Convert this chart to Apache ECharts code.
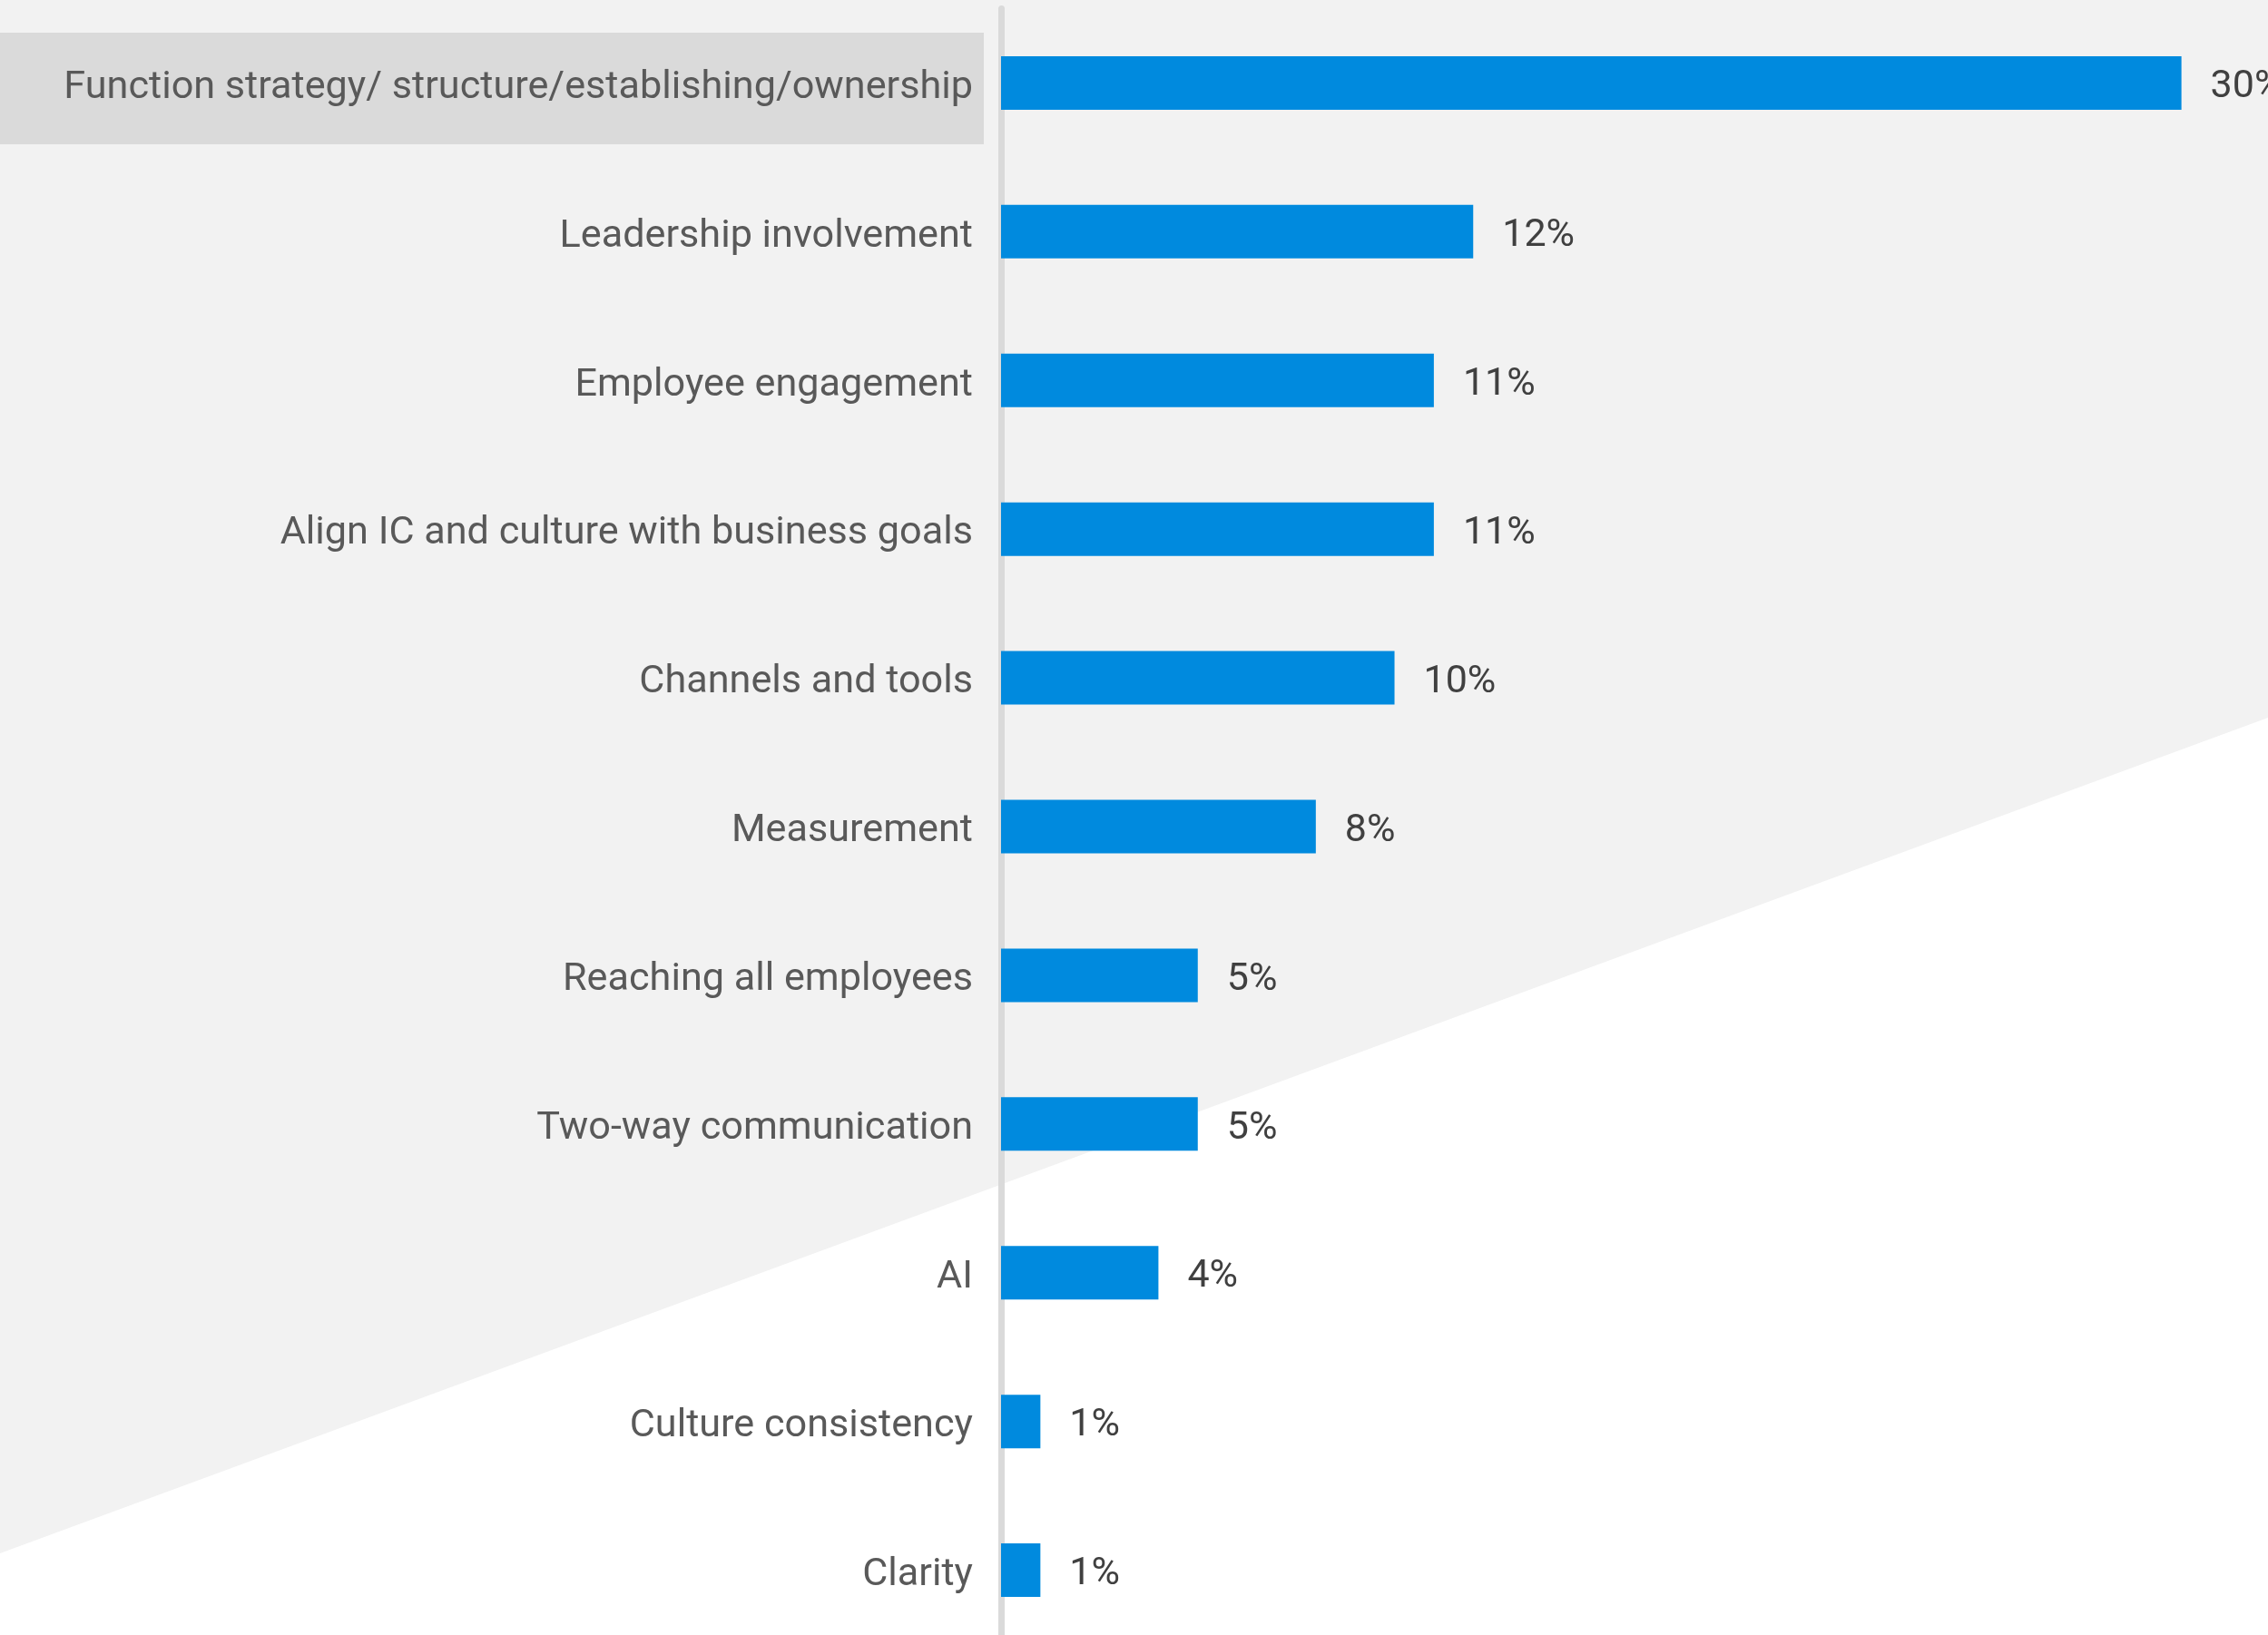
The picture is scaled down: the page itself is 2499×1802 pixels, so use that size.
<!DOCTYPE html>
<html>
<head>
<meta charset="utf-8">
<script src="https://cdn.jsdelivr.net/npm/echarts@6/dist/echarts.min.js"></script>
<style>
  html, body { margin: 0; padding: 0; background: #ffffff; overflow: hidden; }
  #chart { width: 2499px; height: 1816px; }
</style>
</head>
<body>
<div id="chart"></div>
<script>
// Survey answers: share of respondents per topic
const categories = [
  'Function strategy/ structure/establishing/ownership',
  'Leadership involvement',
  'Employee engagement',
  'Align IC and culture with business goals',
  'Channels and tools',
  'Measurement',
  'Reaching all employees',
  'Two-way communication',
  'AI',
  'Culture consistency',
  'Clarity'
];
const shares = [30, 12, 11, 11, 10, 8, 5, 5, 4, 1, 1];
const highlightedIndex = 0;

const W = 2499;
const chart = echarts.init(document.getElementById('chart'), null, { renderer: 'canvas' });

const option = {
  backgroundColor: '#ffffff',
  animation: false,
  grid: { left: 1103, right: 0, top: 9.5, height: 1803, containLabel: false },
  xAxis: {
    type: 'value', min: 0, max: 32.2, show: false
  },
  yAxis: {
    type: 'category',
    inverse: true,
    data: categories,
    offset: 3.5,
    axisLine: { show: true, lineStyle: { color: '#dadada', width: 7 } },
    axisTick: { show: false },
    splitLine: { show: false },
    axisLabel: {
      margin: 27.5,
      formatter: v => '{t|' + v + '}',
      rich: {
        t: {
          color: '#595959',
          fontFamily: 'Roboto',
          fontSize: 43.2,
          padding: [11, 0, 0, 0]
        }
      }
    }
  },
  series: [{
    type: 'bar',
    data: shares,
    barWidth: 59,
    itemStyle: { color: '#008ade' },
    label: {
      show: true,
      position: 'right',
      distance: 32,
      offset: [0, 5],
      color: '#404040',
      fontFamily: 'Roboto',
      fontSize: 43,
      formatter: p => p.value + '%'
    }
  }]
};
chart.setOption(option);

// Backdrop: light grey field cut by a diagonal, plus a band behind the highlighted topic
const rowY = chart.convertToPixel({ yAxisIndex: 0 }, highlightedIndex);
chart.setOption({
  graphic: [
    {
      type: 'polygon', z: -100, silent: true,
      shape: { points: [[0, 0], [W, 0], [W, 791], [0, 1712]] },
      style: { fill: '#f2f2f2' }
    },
    {
      type: 'rect', z: -90, silent: true,
      shape: { x: 0, y: rowY - 55.5, width: 1084, height: 123 },
      style: { fill: '#dadada' }
    }
  ]
});
</script>
</body>
</html>
